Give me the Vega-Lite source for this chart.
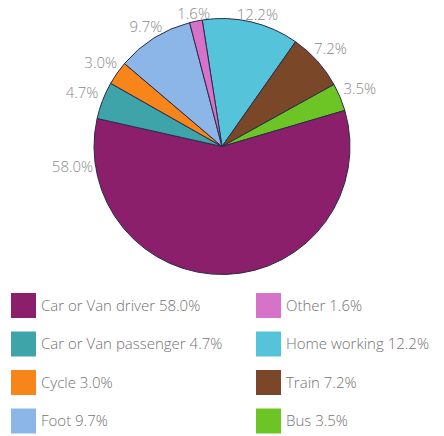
{
  "$schema": "https://vega.github.io/schema/vega-lite/v6.json",
  "width": 444,
  "height": 293,
  "padding": 0,
  "background": "white",
  "config": {"view": {"stroke": null}, "font": "Open Sans"},
  "data": {
    "values": [
      {"mode": "Home working 12.2%", "pct": "12.2%", "value": 12.2, "slice": 1},
      {"mode": "Train 7.2%", "pct": "7.2%", "value": 7.2, "slice": 2},
      {"mode": "Bus 3.5%", "pct": "3.5%", "value": 3.5, "slice": 3},
      {"mode": "Car or Van driver 58.0%", "pct": "58.0%", "value": 58.0, "slice": 4},
      {"mode": "Car or Van passenger 4.7%", "pct": "4.7%", "value": 4.7, "slice": 5},
      {"mode": "Cycle 3.0%", "pct": "3.0%", "value": 3.0, "slice": 6},
      {"mode": "Foot 9.7%", "pct": "9.7%", "value": 9.7, "slice": 7},
      {"mode": "Other 1.6%", "pct": "1.6%", "value": 1.6, "slice": 8}
    ]
  },
  "layer": [
    {
      "mark": {"type": "arc", "radius": 128, "stroke": "#2b2b48", "strokeWidth": 1},
      "encoding": {
        "theta": {"field": "value", "type": "quantitative", "stack": true, "scale": {"range": [-0.155, 6.128]}},
        "order": {"field": "slice", "type": "quantitative"},
        "color": {
          "field": "mode",
          "type": "nominal",
          "scale": {
            "domain": ["Car or Van driver 58.0%", "Car or Van passenger 4.7%", "Cycle 3.0%", "Foot 9.7%", "Other 1.6%", "Home working 12.2%", "Train 7.2%", "Bus 3.5%"],
            "range": ["#8b1f6b", "#3fa3aa", "#f7851a", "#8db6e8", "#d672c8", "#55c4da", "#7a4729", "#6cc524"]
          },
          "legend": {
            "title": null,
            "orient": "none",
            "legendX": 11,
            "legendY": 293,
            "columns": 2,
            "symbolType": "square",
            "symbolSize": 625,
            "symbolStrokeWidth": 0,
            "symbolOpacity": 1,
            "labelFontSize": 15,
            "labelFontWeight": 300,
            "labelColor": "#737373",
            "labelFont": "Open Sans",
            "labelOffset": 5,
            "labelLimit": 300,
            "rowPadding": 13.5,
            "columnPadding": 33
          }
        }
      }
    },
    {
      "transform": [
        {"stack": "value", "groupby": [], "sort": [{"field": "slice", "order": "ascending"}], "as": ["v0", "v1"]}
      ],
      "mark": {
        "type": "text",
        "fontSize": 15,
        "fontWeight": 300,
        "color": "#8a8a8a",
        "font": "Open Sans",
        "align": "center",
        "baseline": "middle",
        "theta": {"expr": "-0.155 + 2*PI*datum.v1/100 - min(PI*datum.value/100, 0.349)"},
        "radius": {"expr": "131 + 20*abs(sin(-0.155 + 2*PI*datum.v1/100 - min(PI*datum.value/100, 0.349)))"}
      },
      "encoding": {"text": {"field": "pct", "type": "nominal"}}
    }
  ]
}
